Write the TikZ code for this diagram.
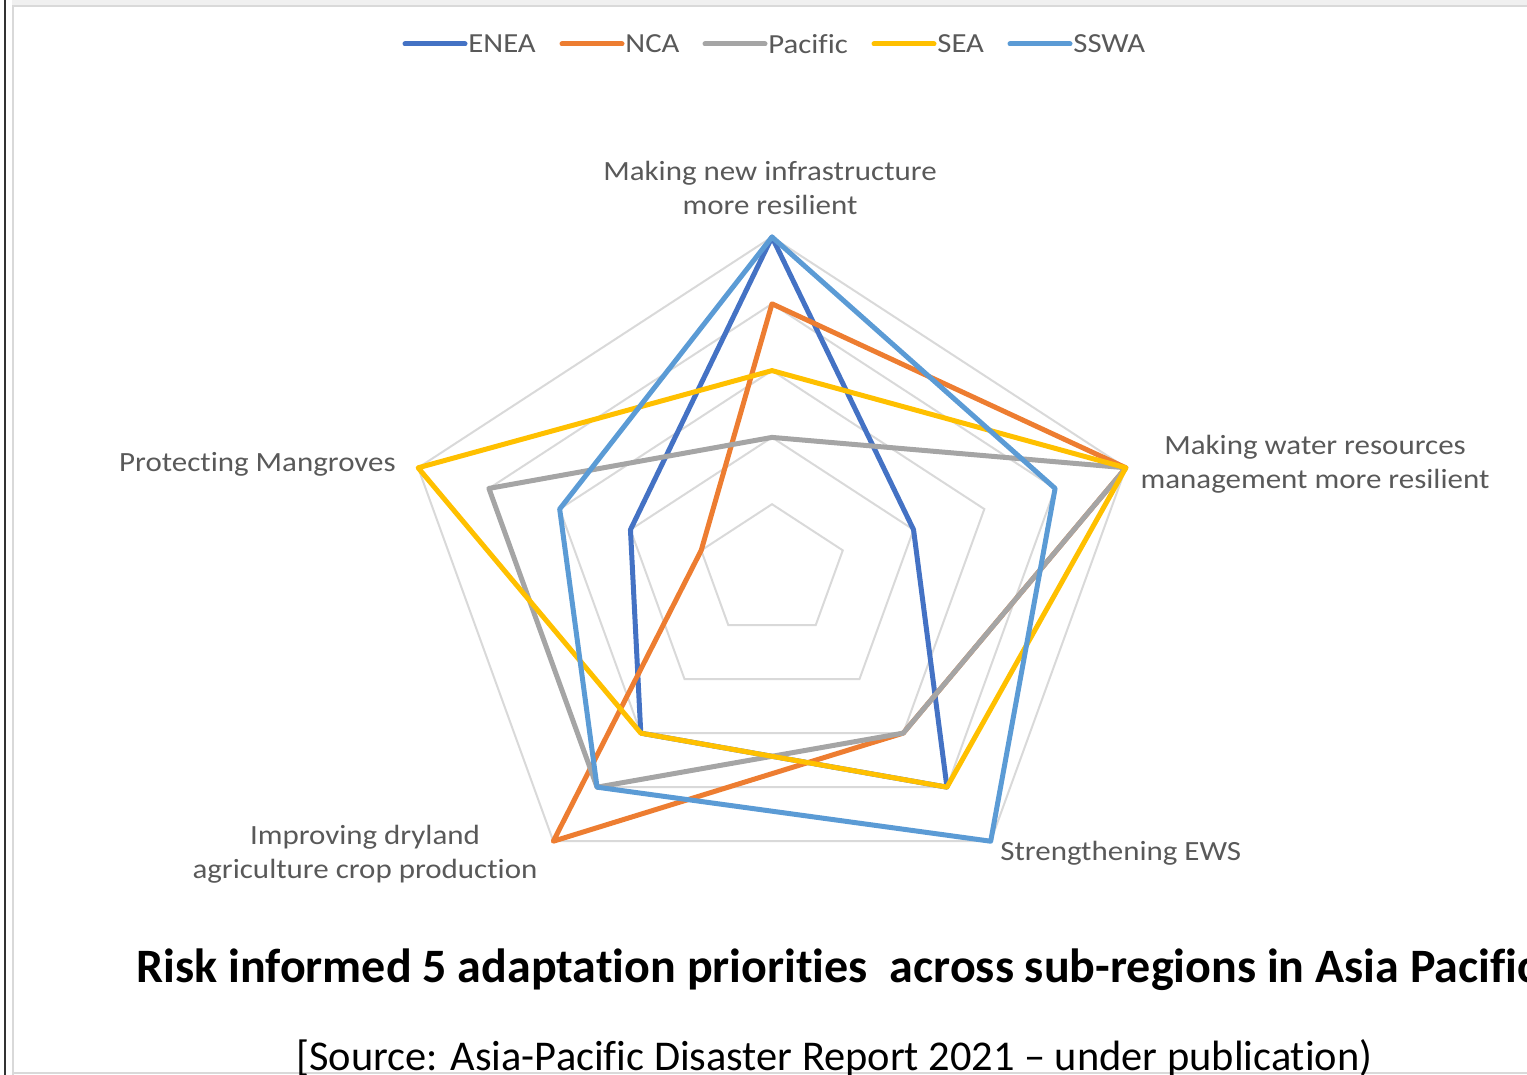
\documentclass[tikz,border=0pt]{standalone}
\usepackage{fontspec}
\setmainfont{Carlito}[Ligatures=NoCommon]
\newfontfamily\chartfont{Carlito}[FakeStretch=1.114, Ligatures=NoCommon]
\newfontfamily\slidefont{Carlito}[Ligatures=NoCommon]
\definecolor{enea}{HTML}{4472C4}
\definecolor{nca}{HTML}{ED7D31}
\definecolor{pacific}{HTML}{A5A5A5}
\definecolor{sea}{HTML}{FFC000}
\definecolor{sswa}{HTML}{5B9BD5}
\definecolor{gridgrey}{HTML}{D9D9D9}
\definecolor{labelgrey}{HTML}{595959}
\newcommand\unitr{66.8}
\tikzset{
    series/.style={line width=2.5pt, line join=round},
    gridline/.style={draw=gridgrey, line width=1pt},
    axislabel/.style={text=labelgrey, font=\chartfont\fontsize{13.9}{17}\selectfont, align=center, inner sep=0pt},
    legendtext/.style={text=labelgrey, font=\chartfont\fontsize{13.8}{17}\selectfont, anchor=west, inner sep=0pt},
}
\begin{document}
\begin{tikzpicture}[x=0.5pt, y=-0.5pt]
    \useasboundingbox (0,0) rectangle (1527,1075);
    % Frame
    \fill[black!6] (12,0) rectangle (1527,5);
    \draw[gridgrey, line width=1pt] (12,6) -- (1527,6);
    \draw[gridgrey, line width=1pt] (12.5,6) -- (12.5,1075);
    \draw[gridgrey, line width=1pt] (12,1073) -- (1527,1073);
    \draw[black!80, line width=1pt] (4.5,0) -- (4.5,1075);
    % Legend
    \node [legendtext] (lenea) at (468,44) {ENEA};
    \node [legendtext] (lnca) at (625,44) {NCA};
    \node [legendtext] (lpac) at (768,44) {Pacific};
    \node [legendtext] (lsea) at (937,44) {SEA};
    \node [legendtext] (lsswa) at (1073,44) {SSWA};
    \draw [series, enea, line cap=round] ([xshift=-1.5pt]lenea.west) -- ++(-60,0);
    \draw [series, nca, line cap=round] ([xshift=-1.5pt]lnca.west) -- ++(-60,0);
    \draw [series, pacific, line cap=round] ([xshift=-1.5pt]lpac.west) -- ++(-60,0);
    \draw [series, sea, line cap=round] ([xshift=-1.5pt]lsea.west) -- ++(-60,0);
    \draw [series, sswa, line cap=round] ([xshift=-1.5pt]lsswa.west) -- ++(-60,0);
    % Radar chart
    \begin{scope}[shift={(772,571)}, xscale=1.114, yscale=-1]
        \foreach \r in {1,...,5}
            \draw [gridline] (90:{\r*\unitr}) -- (18:{\r*\unitr}) -- (-54:{\r*\unitr})
                -- (-126:{\r*\unitr}) -- (162:{\r*\unitr}) -- cycle;
        \draw [series, enea] (90:{5*\unitr}) -- (18:{2*\unitr}) -- (-54:{4*\unitr})
            -- (-126:{3*\unitr}) -- (162:{2*\unitr}) -- cycle;
        \draw [series, nca] (90:{4*\unitr}) -- (18:{5*\unitr}) -- (-54:{3*\unitr})
            -- (-126:{5*\unitr}) -- (162:{1*\unitr}) -- cycle;
        \draw [series, pacific] (90:{2*\unitr}) -- (18:{5*\unitr}) -- (-54:{3*\unitr})
            -- (-126:{4*\unitr}) -- (162:{4*\unitr}) -- cycle;
        \draw [series, sea] (90:{3*\unitr}) -- (18:{5*\unitr}) -- (-54:{4*\unitr})
            -- (-126:{3*\unitr}) -- (162:{5*\unitr}) -- cycle;
        \draw [series, sswa] (90:{5*\unitr}) -- (18:{4*\unitr}) -- (-54:{5*\unitr})
            -- (-126:{4*\unitr}) -- (162:{3*\unitr}) -- cycle;
    \end{scope}
    % Axis labels
    \node [axislabel] (ltop) at (770,188) {Making new infrastructure\\more resilient};
    \node [axislabel] (lright) at (1315,464) {Making water resources\\management more resilient};
    \node [axislabel, anchor=west] (lbright) at (1000,853) {Strengthening EWS};
    \node [axislabel] (lbleft) at (365,854) {Improving dryland\\agriculture crop production};
    \node [axislabel, anchor=east] (lleft) at (396,464) {Protecting Mangroves};
    % Title and source
    \node [anchor=base west, inner sep=0pt, font=\slidefont\fontsize{24}{28}\bfseries] (title)
        at (136,982) {Risk informed 5 adaptation priorities\ \ across sub-regions in Asia Pacific};
    \node [anchor=base west, inner sep=0pt, font=\slidefont\fontsize{21.2}{26}\selectfont] (source)
        at (296,1070) {[Source: Asia-Pacific Disaster Report 2021 – under publication)};
\end{tikzpicture}
\end{document}
